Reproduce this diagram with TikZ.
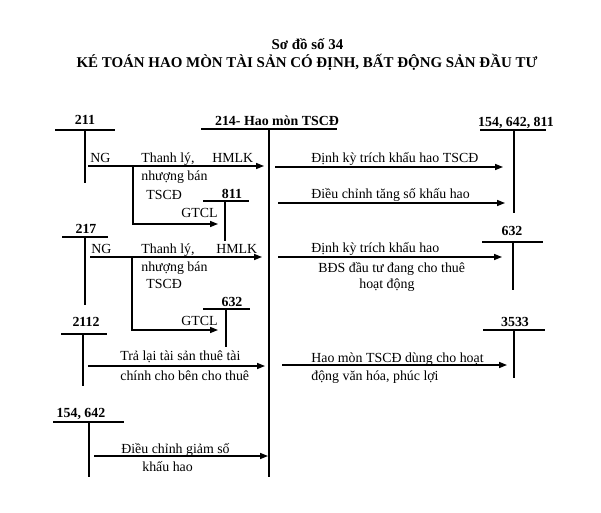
\documentclass[tikz,border=0pt]{standalone}
\usepackage{fontspec}
\setmainfont{Liberation Serif}
\usetikzlibrary{arrows.meta}

\begin{document}
\begin{tikzpicture}[
  x=0.02cm, y=-0.02cm,
  title/.style={font=\fontsize{8.5}{10}\selectfont\bfseries, inner sep=0pt, anchor=base},
  acct/.style={font=\fontsize{7.9}{9}\selectfont\bfseries, inner sep=0pt, anchor=base},
  note/.style={font=\fontsize{7.9}{9}\selectfont, inner sep=0pt, anchor=base west},
  tline/.style={line width=0.8pt},
  mainline/.style={line width=1.7pt},
  arrow/.style={-{Triangle[length=4.5pt,width=3.4pt]}, line width=0.8pt}
]
\useasboundingbox (0,0) rectangle (601,513);

% title
\node[title] (head) at (307.5,50) {Sơ đồ số 34};
\node[title] (subhead) at (307,68) {KÉ TOÁN HAO MÒN TÀI SẢN CÓ ĐỊNH, BẤT ĐỘNG SẢN ĐẦU TƯ};

% account 214
\node[acct] (n214) at (277,126) {214- Hao mòn TSCĐ};
\draw[mainline] (201,129) -- (337,129);
\draw[mainline] (269,129) -- (269,477);

% left side accounts
\node[acct] (n211) at (85,125) {211};
\draw[tline] (55,130) -- (115,130);
\draw[tline] (85,130) -- (85,183);

\node[acct] (n811) at (232,198) {811};
\draw[tline] (203,201) -- (249,201);
\draw[tline] (225,201) -- (225,241);

\node[acct] (n217) at (86,233) {217};
\draw[tline] (62,237) -- (108,237);
\draw[tline] (85,237) -- (85,305);

\node[acct] (n632l) at (232,306) {632};
\draw[tline] (203,309) -- (250,309);
\draw[tline] (226,309) -- (226,347);

\node[acct] (n2112) at (86,326) {2112};
\draw[tline] (61,334) -- (107,334);
\draw[tline] (83,334) -- (83,386);

\node[acct] (n154l) at (81,417) {154, 642};
\draw[tline] (53,422) -- (124,422);
\draw[tline] (89,422) -- (89,477);

% right side accounts
\node[acct] (n154r) at (516,127) {154, 642, 811};
\draw[tline] (480,130) -- (546,130);
\draw[tline] (514,130) -- (514,213);

\node[acct] (n632r) at (512,235) {632};
\draw[tline] (482,242) -- (543,242);
\draw[tline] (513,242) -- (513,290);

\node[acct] (n3533) at (515,326) {3533};
\draw[tline] (483,330) -- (545,330);
\draw[tline] (514,330) -- (514,378);

% connector ends
\coordinate (from211) at (88,166);
\coordinate (to214a) at (264,166);
\coordinate (fork211) at (133,166);
\coordinate (to811) at (218,224);
\coordinate (from217) at (90,257);
\coordinate (to214b) at (262,257);
\coordinate (fork217) at (132,257);
\coordinate (to632l) at (218,330);
\coordinate (from2112) at (88,366);
\coordinate (to214c) at (265,366);
\coordinate (from154) at (94,456);
\coordinate (to214d) at (268,456);
\coordinate (from214a) at (275,167);
\coordinate (to154) at (503,167);
\coordinate (from214b) at (278,203);
\coordinate (to154b) at (505,203);
\coordinate (from214c) at (278,257);
\coordinate (to632r) at (502,257);
\coordinate (from214d) at (282,365);
\coordinate (to3533) at (507,365);

% left arrows
\draw[arrow] (from211) -- (to214a);
\draw[arrow] (fork211) |- (to811);
\draw[arrow] (from217) -- (to214b);
\draw[arrow] (fork217) |- (to632l);
\draw[arrow] (from2112) -- (to214c);
\draw[arrow] (from154) -- (to214d);

% right arrows
\draw[arrow] (from214a) -- (to154);
\draw[arrow] (from214b) -- (to154b);
\draw[arrow] (from214c) -- (to632r);
\draw[arrow] (from214d) -- (to3533);

% texts on the left
\node[note] (ng1) at (90,163) {NG};
\node[note] (tl1) at (141,163) {Thanh lý,};
\node[note] (hm1) at (212,163) {HMLK};
\node[note] (nb1) at (141,180) {nhượng bán};
\node[note] (ts1) at (146,199) {TSCĐ};
\node[note, anchor=base east] (gt1) at (218,217) {GTCL};

\node[note] (ng2) at (91,253) {NG};
\node[note] (tl2) at (141,253) {Thanh lý,};
\node[note] (hm2) at (216,253) {HMLK};
\node[note] (nb2) at (141,271) {nhượng bán};
\node[note] (ts2) at (146,288) {TSCĐ};
\node[note, anchor=base east] (gt2) at (218,325) {GTCL};

\node[note] (tra1) at (120,360) {Trả lại tài sản thuê tài};
\node[note] (tra2) at (120,380) {chính cho bên cho thuê};

\node[note] (giam1) at (121,453) {Điều chỉnh giảm số};
\node[note] (giam2) at (142,471) {khấu hao};

% texts on the right
\node[note] (dk1) at (311,163) {Định kỳ trích khấu hao TSCĐ};
\node[note] (tang) at (311,198) {Điều chỉnh tăng số khấu hao};
\node[note] (dk2) at (311,252) {Định kỳ trích khấu hao};
\node[note] (bds1) at (318,272) {BĐS đầu tư đang cho thuê};
\node[note] (bds2) at (359,288) {hoạt động};
\node[note] (vh1) at (311,362) {Hao mòn TSCĐ dùng cho hoạt};
\node[note] (vh2) at (311,380) {động văn hóa, phúc lợi};
\end{tikzpicture}
\end{document}
